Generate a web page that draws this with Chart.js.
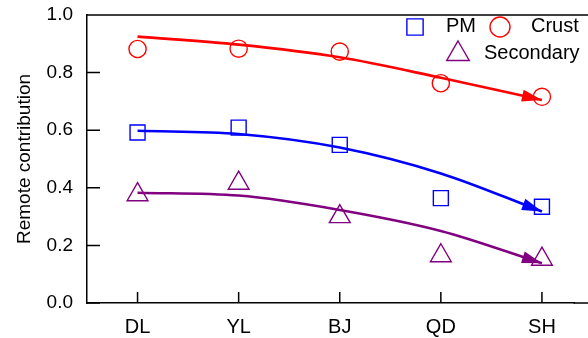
<!DOCTYPE html>
<html>
<head>
<meta charset="utf-8">
<script src="https://cdn.jsdelivr.net/npm/chart.js@4"></script>
<style>
  html, body { margin: 0; padding: 0; background: #fff; overflow: hidden; }
  canvas { display: block; }
</style>
</head>
<body>
<canvas id="canvas" width="588" height="338"></canvas>
<script>
// sites along the x axis
var categories = ['DL', 'YL', 'BJ', 'QD', 'SH'];
var yTicks = [0, 0.2, 0.4, 0.6, 0.8, 1.0];

// measured points
var pm        = [0.592, 0.609, 0.549, 0.364, 0.334];
var crust     = [0.882, 0.883, 0.873, 0.763, 0.716];
var secondary = [0.376, 0.416, 0.300, 0.164, 0.152];

// fitted trend lines (end with an arrow)
var pmFit        = [0.598, 0.587, 0.540, 0.450, 0.318];
var crustFit     = [0.925, 0.897, 0.853, 0.782, 0.705];
var secondaryFit = [0.383, 0.373, 0.323, 0.250, 0.138];

var RED = '#ff0000', BLUE = '#0000ff', PURPLE = '#800080';

function pts(arr) {
  return arr.map(function(v, i) { return {x: i + 1, y: v}; });
}

function fitLine(label, arr, color) {
  return {
    type: 'line', label: label, data: pts(arr),
    borderColor: color, borderWidth: 2.6, pointRadius: 0,
    cubicInterpolationMode: 'monotone', fill: false, arrow: true
  };
}

function marks(label, arr, color, style, r) {
  return {
    type: 'scatter', label: label, data: pts(arr),
    borderColor: color, backgroundColor: 'rgba(0,0,0,0)',
    pointStyle: style, pointRadius: r, pointHoverRadius: r, borderWidth: 1.4
  };
}

// no extra room for edge labels, the plot box is fixed
function noPad(scale) {
  scale.paddingTop = 0; scale.paddingBottom = 0;
  scale.paddingLeft = 0; scale.paddingRight = 0;
}

// arrow heads at the end of the fitted lines
var arrowPlugin = {
  id: 'arrows',
  afterDatasetsDraw: function(chart) {
    var ctx = chart.ctx;
    chart.data.datasets.forEach(function(ds, i) {
      if (!ds.arrow) return;
      var meta = chart.getDatasetMeta(i);
      var last = meta.data[meta.data.length - 1];
      var prev = meta.data[meta.data.length - 2];
      var fx = last.cp1x !== undefined ? last.cp1x : prev.x;
      var fy = last.cp1y !== undefined ? last.cp1y : prev.y;
      var a = Math.atan2(last.y - fy, last.x - fx);
      var len = 20, hw = 6;
      ctx.save();
      ctx.fillStyle = ds.borderColor;
      ctx.translate(last.x, last.y);
      ctx.rotate(a);
      ctx.beginPath();
      ctx.moveTo(0, 0);
      ctx.lineTo(-len, -hw);
      ctx.lineTo(-len, hw);
      ctx.closePath();
      ctx.fill();
      ctx.restore();
    });
  }
};

// inward ticks, frame lines running off the right edge, legend box
var framePlugin = {
  id: 'frame',
  afterDraw: function(chart) {
    var ctx = chart.ctx, area = chart.chartArea;
    var xs = chart.scales.x, ys = chart.scales.y;
    ctx.save();
    ctx.strokeStyle = '#000';
    ctx.lineWidth = 1.5;
    ctx.beginPath();
    ctx.moveTo(area.left, area.top);
    ctx.lineTo(chart.width, area.top);
    ctx.moveTo(area.right - 1, area.bottom);
    ctx.lineTo(chart.width, area.bottom);
    ys.ticks.forEach(function(t) {
      var y = ys.getPixelForValue(t.value);
      ctx.moveTo(area.left, y);
      ctx.lineTo(area.left + 13, y);
    });
    xs.ticks.forEach(function(t) {
      var x = xs.getPixelForValue(t.value);
      ctx.moveTo(x, area.bottom);
      ctx.lineTo(x, area.bottom - 11);
    });
    ctx.stroke();

    // legend
    var items = [
      {label: 'PM', ds: 3, mx: 415, my: 27, tx: 446, ty: 26},
      {label: 'Crust', ds: 4, mx: 500, my: 27, tx: 531, ty: 26},
      {label: 'Secondary', ds: 5, mx: 458, my: 54, tx: 484, ty: 53}
    ];
    ctx.font = '20px "Liberation Sans", Arial, sans-serif';
    ctx.textBaseline = 'middle';
    ctx.textAlign = 'left';
    items.forEach(function(it) {
      var ds = chart.data.datasets[it.ds];
      var r = ds.pointStyle === 'circle' ? 10 : (ds.pointStyle === 'triangle' ? 13 : 11.5);
      ctx.fillStyle = 'rgba(0,0,0,0)';
      ctx.strokeStyle = ds.borderColor;
      ctx.lineWidth = ds.borderWidth;
      Chart.helpers.drawPoint(ctx, {
        pointStyle: ds.pointStyle, radius: r, rotation: 0,
        borderWidth: ds.borderWidth
      }, it.mx, it.my);
      ctx.fillStyle = '#000';
      ctx.fillText(it.label, it.tx, it.ty);
    });
    ctx.restore();
  }
};

Chart.defaults.font.family = '"Liberation Sans", Arial, sans-serif';
Chart.defaults.color = '#000';

var ctx = document.getElementById('canvas').getContext('2d');
var chart = new Chart(ctx, {
  data: {
    datasets: [
      fitLine('PM fit', pmFit, BLUE),
      fitLine('Crust fit', crustFit, RED),
      fitLine('Secondary fit', secondaryFit, PURPLE),
      marks('PM', pm, BLUE, 'rect', 10.6),
      marks('Crust', crust, RED, 'circle', 8.6),
      marks('Secondary', secondary, PURPLE, 'triangle', 12)
    ]
  },
  options: {
    responsive: false,
    animation: false,
    layout: { padding: { top: 15, left: 0, right: 0, bottom: 0 } },
    plugins: { legend: { display: false }, tooltip: { enabled: false } },
    scales: {
      x: {
        type: 'linear', min: 0.5, max: 5.323,
        afterBuildTicks: function(scale) {
          scale.ticks = categories.map(function(c, i) { return {value: i + 1}; });
        },
        afterFit: function(scale) { scale.height = 35; noPad(scale); },
        ticks: {
          autoSkip: false, maxRotation: 0, padding: 12,
          font: { size: 20 },
          callback: function(v) { return categories[Math.round(v) - 1]; }
        },
        grid: { drawOnChartArea: false, drawTicks: false },
        border: { display: true, color: '#000', width: 1.5 }
      },
      y: {
        min: 0, max: 1,
        afterBuildTicks: function(scale) {
          scale.ticks = yTicks.map(function(v) { return {value: v}; });
        },
        afterFit: function(scale) { scale.width = 87; noPad(scale); },
        ticks: {
          padding: 14, font: { size: 19 },
          callback: function(v) { return v.toFixed(1); }
        },
        title: {
          display: true, text: 'Remote contribution',
          font: { size: 19 }, padding: { top: 13, bottom: 0 }
        },
        grid: { drawOnChartArea: false, drawTicks: false },
        border: { display: true, color: '#000', width: 1.5 }
      }
    }
  },
  plugins: [arrowPlugin, framePlugin]
});
</script>
</body>
</html>
